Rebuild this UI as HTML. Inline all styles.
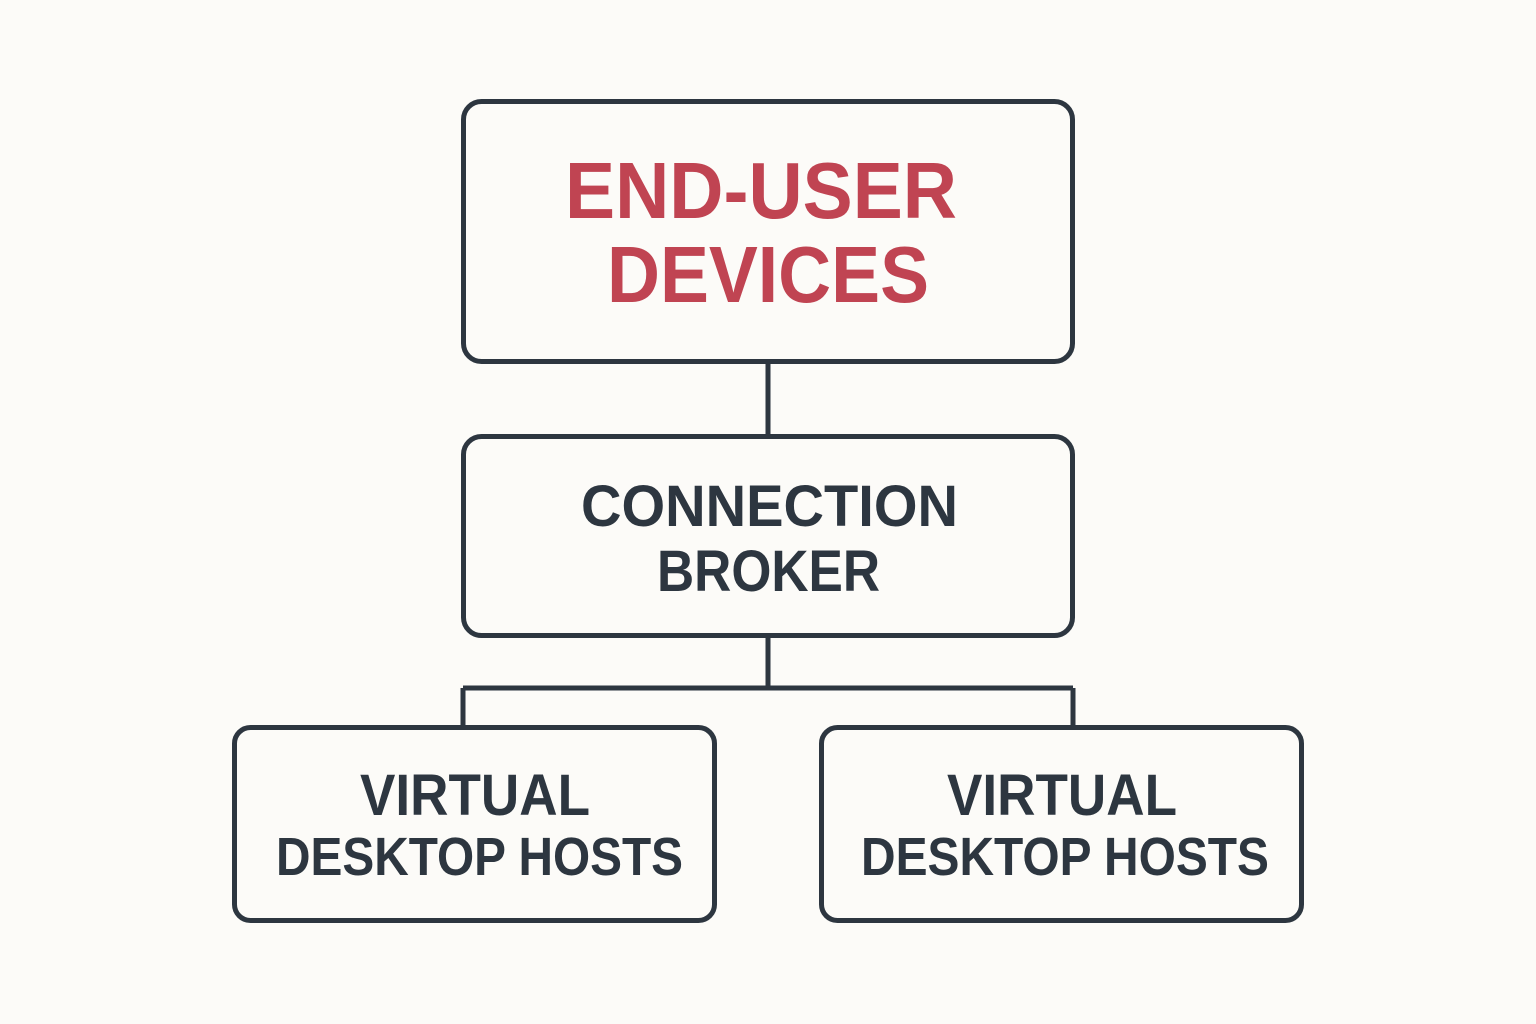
<!DOCTYPE html>
<html><head><style>html,body{margin:0;padding:0;background:#fcfbf8}svg{display:block}</style></head>
<body>
<svg width="1536" height="1024" viewBox="0 0 1536 1024" xmlns="http://www.w3.org/2000/svg">
<rect width="1536" height="1024" fill="#fcfbf8"/>
<g fill="none" stroke="#2d3640" stroke-width="5">
<rect x="463.5" y="101.5" width="609" height="260" rx="18"/>
<rect x="463.5" y="436.5" width="609" height="199" rx="18"/>
<rect x="234.5" y="727.5" width="480" height="193" rx="16"/>
<rect x="821.5" y="727.5" width="480" height="193" rx="16"/>
<path d="M768 362V436M768 636V688M463 688H1073M463 688V727M1073 688V727"/>
</g>
<g font-family="Liberation Sans, sans-serif" font-weight="bold">
<text x="565" y="218" font-size="80" fill="#c04452" textLength="392" lengthAdjust="spacingAndGlyphs">END-USER</text>
<text x="607" y="302" font-size="80" fill="#c04452" textLength="322" lengthAdjust="spacingAndGlyphs">DEVICES</text>
<g fill="#2d3640">
<text x="581" y="526" font-size="58" textLength="377" lengthAdjust="spacingAndGlyphs">CONNECTION</text>
<text x="657" y="591" font-size="58" textLength="223" lengthAdjust="spacingAndGlyphs">BROKER</text>
<text x="360" y="815" font-size="58" textLength="230" lengthAdjust="spacingAndGlyphs">VIRTUAL</text>
<text x="276" y="875" font-size="54" textLength="407" lengthAdjust="spacingAndGlyphs">DESKTOP HOSTS</text>
<text x="947" y="815" font-size="58" textLength="230" lengthAdjust="spacingAndGlyphs">VIRTUAL</text>
<text x="861" y="875" font-size="54" textLength="408" lengthAdjust="spacingAndGlyphs">DESKTOP HOSTS</text>
</g>
</g>
</svg>
</body></html>
